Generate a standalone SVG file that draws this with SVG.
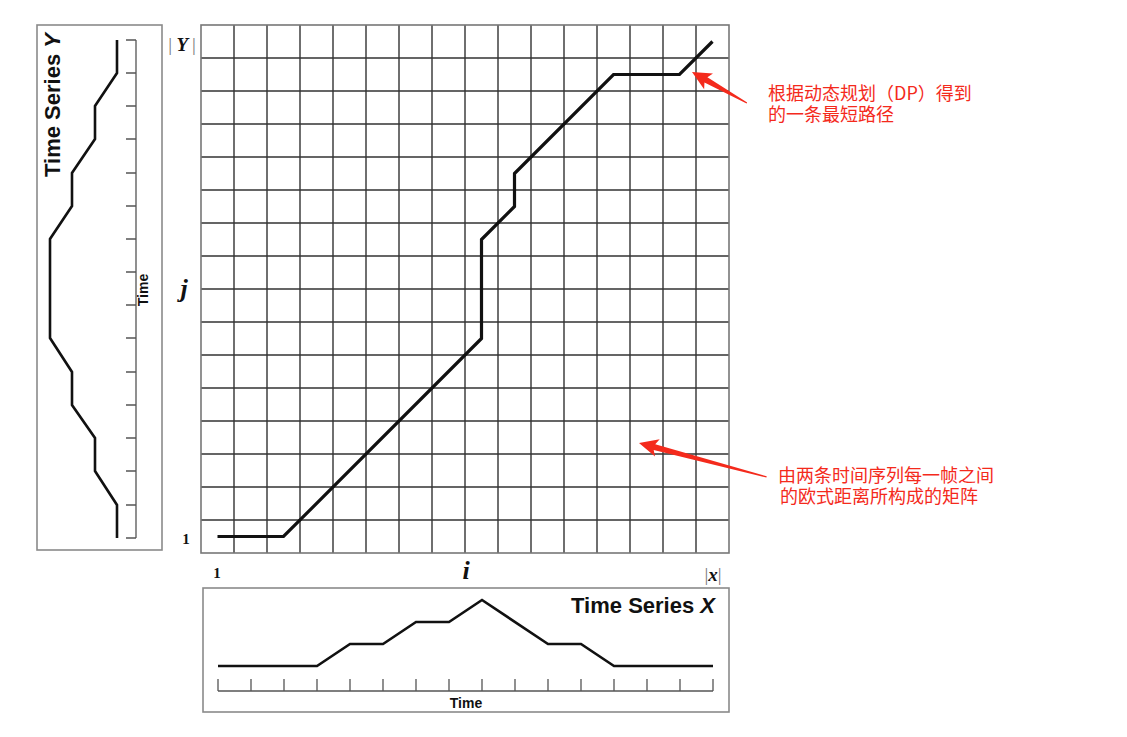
<svg xmlns="http://www.w3.org/2000/svg" width="1127" height="737" viewBox="0 0 1127 737">
<style>
.grid{stroke:#333;stroke-width:1.4;fill:none}
.border{stroke:#777;stroke-width:1.6;fill:none}
.panel{stroke:#8a8a8a;stroke-width:1.6;fill:#fff}
.series{stroke:#111;stroke-width:2.6;fill:none;stroke-linejoin:miter}
.path{stroke:#111;stroke-width:3.2;fill:none;stroke-linejoin:miter}
.axis{stroke:#555;stroke-width:1.3;fill:none}
.lbl{font-family:"Liberation Serif",serif;font-weight:bold;fill:#111}
.sans{font-family:"Liberation Sans",Arial,sans-serif;font-weight:bold;fill:#111}
.note{font-family:"Noto Sans CJK SC",sans-serif;fill:#f42a1c}
.arrow{fill:#f42a1c}
</style>
<rect width="1127" height="737" fill="#fff"/>

<g id="matrix">
<path class="grid" d="M234,25V553M267,25V553M300,25V553M333,25V553M366,25V553M399,25V553M432,25V553M465,25V553M498,25V553M531,25V553M564,25V553M597,25V553M630,25V553M663,25V553M696,25V553
M201,58H729M201,91H729M201,124H729M201,157H729M201,190H729M201,223H729M201,256H729M201,289H729M201,322H729M201,355H729M201,388H729M201,421H729M201,454H729M201,487H729M201,520H729"/>
<rect class="border" x="201" y="25" width="528" height="528"/>
</g>

<g id="warp-path">
<polyline class="path" points="217.5,536.5 283.5,536.5 481.5,338.5 481.5,239.5 514.5,206.5 514.5,173.5 613.5,74.5 679.5,74.5 712.5,41.5"/>
</g>

<g id="axis-labels">
<text class="lbl" x="182" y="51" font-size="19" text-anchor="middle"><tspan fill="#777" font-weight="normal">|</tspan><tspan font-style="italic"> Y </tspan><tspan fill="#777" font-weight="normal">|</tspan></text>
<text class="lbl" x="184" y="297" font-size="26" font-style="italic" text-anchor="middle">j</text>
<text class="lbl" x="186" y="544" font-size="15" text-anchor="middle">1</text>
<text class="lbl" x="217" y="578" font-size="15" text-anchor="middle">1</text>
<text class="lbl" x="466" y="579" font-size="26" font-style="italic" text-anchor="middle">i</text>
<text class="lbl" x="713" y="581" font-size="19" text-anchor="middle"><tspan fill="#777" font-weight="normal">|</tspan><tspan font-style="italic">x</tspan><tspan fill="#777" font-weight="normal">|</tspan></text>
</g>

<g id="series-y">
<rect class="panel" x="37" y="25" width="125" height="525"/>
<text class="sans" font-size="22" text-anchor="middle" transform="translate(60,105) rotate(-90)">Time Series <tspan font-style="italic">Y</tspan></text>
<path class="axis" d="M136,40V538M126,40H136M126,73H136M126,106H136M126,139H136M126,173H136M126,206H136M126,239H136M126,272H136M126,305H136M126,338H136M126,372H136M126,405H136M126,438H136M126,471H136M126,505H136M126,538H136"/>
<text class="sans" font-size="14" text-anchor="middle" transform="translate(148,290) rotate(-90)">Time</text>
<polyline class="series" points="117,40 117,73 95,106 95,139 72,173 72,206 50,239 50,338 72,372 72,405 95,438 95,471 117,505 117,538"/>
</g>

<g id="series-x">
<rect class="panel" x="203" y="588" width="526" height="124"/>
<text class="sans" font-size="22" text-anchor="end" x="715" y="613">Time Series <tspan font-style="italic">X</tspan></text>
<path class="axis" d="M218,691H713M218,679V691M251,679V691M284,679V691M317,679V691M350,679V691M383,679V691M416,679V691M449,679V691M482,679V691M515,679V691M548,679V691M581,679V691M614,679V691M647,679V691M680,679V691M713,679V691"/>
<text class="sans" font-size="14" text-anchor="middle" x="466" y="708">Time</text>
<polyline class="series" points="218,666 317,666 350,644 383,644 416,622 449,622 482,600 548,644 581,644 614,666 713,666"/>
</g>

<g id="connectors">
<polygon class="arrow" transform="translate(692,72) rotate(29.4)" points="0,0 19,-9 16,-3 63,-0.6 63,0.6 16,3 19,9"/>
<polygon class="arrow" transform="translate(639,443) rotate(14.9)" points="0,0 19,-9 16,-3 132,-0.6 132,0.6 16,3 19,9"/>
</g>

<g id="note-dp">
<text class="note" x="768" y="100" font-size="18">根据动态规划（DP）得到</text>
<text class="note" x="768" y="121" font-size="18">的一条最短路径</text>
</g>

<g id="note-matrix">
<text class="note" x="778" y="482" font-size="18">由两条时间序列每一帧之间</text>
<text class="note" x="780" y="503" font-size="18">的欧式距离所构成的矩阵</text>
</g>
</svg>
